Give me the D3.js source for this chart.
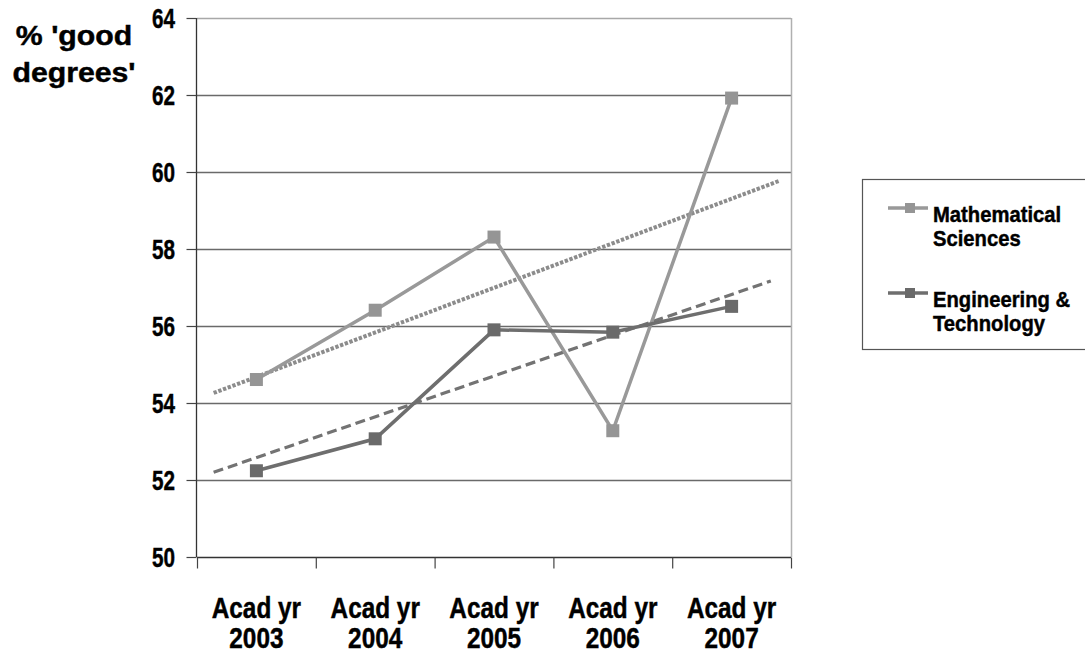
<!DOCTYPE html>
<html>
<head>
<meta charset="utf-8">
<script src="https://cdn.jsdelivr.net/npm/d3@7"></script>
<style>
  html, body { margin: 0; padding: 0; background: #fff; }
  svg { display: block; }
  text { font-family: "Liberation Sans", Arial, sans-serif; font-weight: bold; fill: #000; stroke: #000; stroke-width: 0.45px; }
</style>
</head>
<body>
<svg id="chart" width="1085" height="654"></svg>
<script>
// ---- data ----
const categories = ["2003", "2004", "2005", "2006", "2007"];
const categoryPrefix = "Acad yr";
const mathValues = [54.61, 56.41, 58.31, 53.28, 61.92];
const engValues = [52.24, 53.07, 55.90, 55.84, 56.51];
const yTicks = [50, 52, 54, 56, 58, 60, 62, 64];
const seriesNames = [["Mathematical", "Sciences"], ["Engineering &", "Technology"]];
// trendline ends: [position (category index), value]
const mathTrend = [[-0.36, 54.26], [4.40, 59.77]];
const engTrend = [[-0.36, 52.20], [4.33, 57.17]];
const yTitle = ["% 'good", "degrees'"];

// ---- layout ----
const svg = d3.select("#chart");
const plot = { left: 197, right: 791, top: 18, bottom: 557 };

const xBand = d3.scaleBand().domain(categories).range([plot.left, plot.right]);
const xLin = d3.scaleLinear().domain([-0.5, categories.length - 0.5]).range([plot.left, plot.right]);
const y = d3.scaleLinear().domain([50, 64]).range([plot.bottom, plot.top]);

// gridlines
svg.append("g").selectAll("line").data(yTicks.filter(v => v > 50)).join("line")
  .attr("x1", plot.left).attr("x2", plot.right)
  .attr("y1", d => Math.round(y(d)) + 0.5).attr("y2", d => Math.round(y(d)) + 0.5)
  .attr("stroke", d => d === 64 ? "#a8a8a8" : "#6a6a6a").attr("stroke-width", 1.3);

// right border
svg.append("line")
  .attr("x1", plot.right + 0.5).attr("x2", plot.right + 0.5)
  .attr("y1", plot.top).attr("y2", plot.bottom)
  .attr("stroke", "#b0b0b0").attr("stroke-width", 1.5);

// y axis
const yAxis = d3.axisLeft(y).tickValues(yTicks).tickSize(10).tickFormat("");
const yg = svg.append("g").attr("transform", `translate(${plot.left - 0.5},0)`).call(yAxis);
yg.select(".domain").attr("stroke", "#333").attr("stroke-width", 1.3).attr("d", `M0,${plot.top}V${plot.bottom}`);
yg.selectAll(".tick line").attr("stroke", "#444").attr("stroke-width", 1.2);

// y labels
svg.append("g").selectAll("text").data(yTicks).join("text")
  .attr("transform", d => `translate(175,${y(d) + 10}) scale(0.74,1)`)
  .attr("text-anchor", "end")
  .style("font-size", "28px")
  .text(d => d);

// x axis
const xAxis = d3.axisBottom(xLin).tickValues(d3.range(-0.5, categories.length, 1)).tickSize(11).tickFormat("");
const xg = svg.append("g").attr("transform", `translate(0,${plot.bottom + 0.5})`).call(xAxis);
xg.select(".domain").attr("stroke", "#333").attr("stroke-width", 1.3).attr("d", `M${plot.left},0H${plot.right}`);
xg.selectAll(".tick line").attr("stroke", "#444").attr("stroke-width", 1.2);

// x labels (two lines in one text)
const xl = svg.append("g").selectAll("text").data(categories).join("text")
  .attr("transform", d => `translate(${xBand(d) + xBand.bandwidth() / 2},618) scale(0.84,1)`)
  .attr("text-anchor", "middle").style("font-size", "29px");
xl.append("tspan").attr("x", 0).attr("y", 0).text(categoryPrefix);
xl.append("tspan").attr("x", 0).attr("y", 30).text(d => d);

// y title
const yt = svg.append("text")
  .attr("transform", "translate(74,45) scale(1.08,1)")
  .attr("text-anchor", "middle").style("font-size", "28px");
yt.selectAll("tspan").data(yTitle).join("tspan")
  .attr("x", 0).attr("y", (d, i) => i * 37).text(d => d);

// series definitions
const series = [
  { vals: mathValues, trend: mathTrend, color: "#999999", marker: "#959595", trendColor: "#8c8c8c", dash: "3.4,1.6", tw: 4 },
  { vals: engValues, trend: engTrend, color: "#6e6e6e", marker: "#6a6a6a", trendColor: "#737373", dash: "10,5", tw: 3.2 }
];

// trendlines
series.forEach(s => {
  svg.append("line")
    .attr("x1", xLin(s.trend[0][0])).attr("y1", y(s.trend[0][1]))
    .attr("x2", xLin(s.trend[1][0])).attr("y2", y(s.trend[1][1]))
    .attr("stroke", s.trendColor).attr("stroke-width", s.tw)
    .attr("stroke-dasharray", s.dash);
});

// series lines + markers
const line = d3.line().x((d, i) => xLin(i)).y(d => y(d));
series.forEach(s => {
  svg.append("path").attr("d", line(s.vals))
    .attr("fill", "none").attr("stroke", s.color).attr("stroke-width", 3.5)
    .attr("stroke-linejoin", "miter");
});
series.forEach(s => {
  svg.append("g").selectAll("rect").data(s.vals).join("rect")
    .attr("x", (d, i) => xLin(i) - 6.5).attr("y", d => y(d) - 6.5)
    .attr("width", 13).attr("height", 13)
    .attr("fill", s.marker);
});

// legend
const lg = svg.append("g");
lg.append("rect").attr("x", 862.5).attr("y", 179.5).attr("width", 240).attr("height", 170)
  .attr("fill", "#fff").attr("stroke", "#555").attr("stroke-width", 1.2);
const legY = [208, 293];
series.forEach((s, i) => {
  const g = lg.append("g").attr("transform", `translate(0,${legY[i]})`);
  g.append("line").attr("x1", 888).attr("x2", 928).attr("y1", 0).attr("y2", 0)
    .attr("stroke", s.color).attr("stroke-width", 3.5);
  g.append("rect").attr("x", 905).attr("y", -5).attr("width", 10).attr("height", 10).attr("fill", s.marker);
  const t = g.append("text").attr("transform", "translate(933,14) scale(0.92,1)")
    .style("font-size", "22px");
  t.selectAll("tspan").data(seriesNames[i]).join("tspan")
    .attr("x", 0).attr("y", (d, j) => j * 24.5).text(d => d);
});
</script>
</body>
</html>
